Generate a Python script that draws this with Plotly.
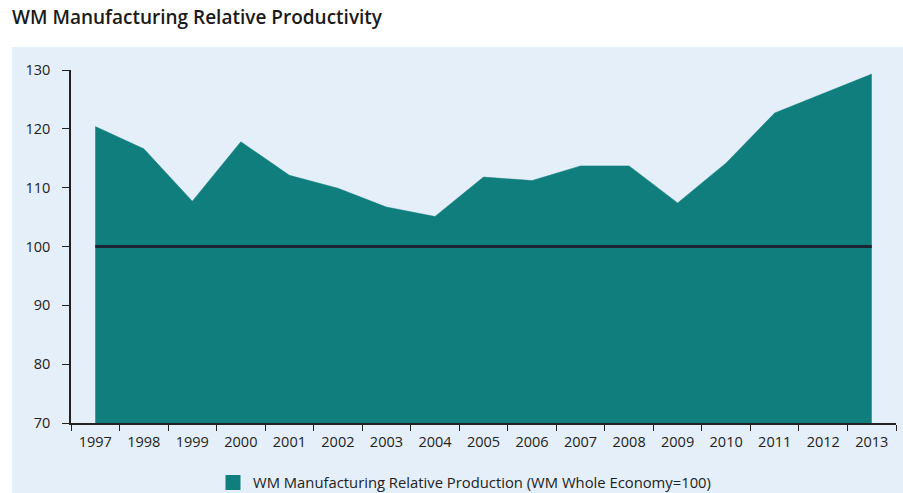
import plotly.graph_objects as go

years = ["1997", "1998", "1999", "2000", "2001", "2002", "2003", "2004", "2005",
         "2006", "2007", "2008", "2009", "2010", "2011", "2012", "2013"]
relative_productivity = [120.4, 116.6, 107.7, 117.8, 112.1, 109.9, 106.7, 105.1, 111.8,
                         111.2, 113.7, 113.7, 107.4, 114.2, 122.7, 126.0, 129.3]
baseline = 100
y_ticks = [70, 80, 90, 100, 110, 120, 130]

TEAL = "#117e7e"
PANEL = "#e5eff9"
FONT = "Open Sans"

W, H = 903, 493
L, R, T, B = 71, 7, 70, 70
pw = W - L - R
ph = H - T - B

fig = go.Figure()
fig.add_trace(go.Scatter(
    x=years, y=relative_productivity, mode="lines", fill="tozeroy",
    fillcolor=TEAL, line=dict(color=TEAL, width=0.5), showlegend=False,
    hoverinfo="x+y"))
fig.add_trace(go.Scatter(
    x=years, y=[baseline] * len(years), mode="lines",
    line=dict(color="#1c2533", width=3), showlegend=False))
fig.add_trace(go.Scatter(
    x=[None], y=[None], mode="markers",
    marker=dict(symbol="square", size=15, color=TEAL),
    name="WM Manufacturing Relative Production (WM Whole Economy=100)"))

fig.add_shape(type="rect", xref="paper", yref="paper", layer="below",
              x0=(12 - L) / pw, x1=(W - L) / pw + 0.01,
              y0=(H - B - H) / ph - 0.01, y1=(H - B - 47) / ph,
              fillcolor=PANEL, line=dict(width=0))

fig.update_layout(
    width=W, height=H,
    margin=dict(l=L, r=R, t=T, b=B, autoexpand=False),
    paper_bgcolor="white", plot_bgcolor=PANEL,
    font=dict(family=FONT, size=14.5, color="#222222"),
    title=dict(text="WM Manufacturing Relative Productivity",
               xref="container", yref="container", x=12 / W, xanchor="left",
               y=1 - 11 / H, yanchor="top",
               font=dict(family=FONT, size=19, color="#1a1a1a", weight=600)),
    xaxis=dict(type="category", tickson="boundaries", ticks="outside", ticklen=6,
               tickcolor="#222222", showline=True, linecolor="#222222", linewidth=1.5,
               showgrid=False, zeroline=False, range=[-0.5, 16.5], automargin=False,
               ticklabelstandoff=5,
               tickfont=dict(size=14.5, color="#222222")),
    yaxis=dict(range=[70, 130], tickvals=y_ticks, ticks="outside", ticklen=7,
               tickcolor="#222222", showline=True, linecolor="#222222", linewidth=1.5,
               showgrid=False, zeroline=False, ticklabelstandoff=9, automargin=False,
               tickfont=dict(size=14.5, color="#222222")),
    legend=dict(orientation="h", x=(213 - L) / pw, xanchor="left",
                y=(H - B - 483) / ph, yanchor="middle",
                bgcolor="rgba(0,0,0,0)", font=dict(size=14.8, color="#222222")),
)

fig.write_html("out.html")
